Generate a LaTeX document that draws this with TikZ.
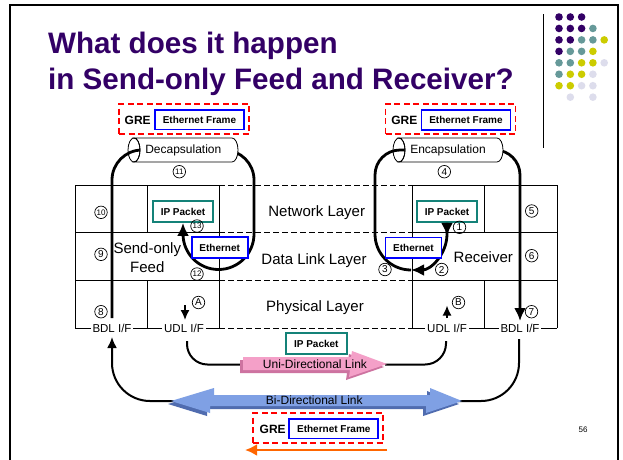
\documentclass[tikz,border=0pt]{standalone}
\usepackage{fontspec}
\setmainfont{Liberation Sans}
\usetikzlibrary{arrows.meta}
\definecolor{ttlpurple}{RGB}{51,0,102}
\definecolor{dotteal}{RGB}{102,153,153}
\definecolor{dotyellow}{RGB}{204,204,0}
\definecolor{dotlav}{RGB}{221,221,236}
\definecolor{ipteal}{RGB}{20,130,120}
\definecolor{pinkl}{RGB}{244,160,200}
\definecolor{pinkd}{RGB}{205,115,160}
\definecolor{bluel}{RGB}{127,160,228}
\definecolor{blued}{RGB}{80,108,175}
\definecolor{orng}{RGB}{255,102,0}
\begin{document}
\begin{tikzpicture}[x=1pt,y=-1pt,
  gridl/.style={line width=0.9pt},
  gridd/.style={line width=0.9pt, dash pattern=on 5.5pt off 3.5pt},
  loopl/.style={line width=2.8pt},
  linkl/.style={line width=2pt},
  bigtip/.style={-{Latex[length=13pt,width=12pt]}},
  smalltip/.style={-{Latex[length=10pt,width=9pt]}},
  circ/.style={circle, draw, line width=0.7pt, inner sep=0pt, minimum size=12.5pt, font=\fontsize{10}{10}\selectfont},
  circs/.style={circ, font=\fontsize{8}{8}\selectfont},
  layer/.style={inner sep=0pt, font=\fontsize{15}{18.4}\selectfont},
  iflabel/.style={fill=white, inner sep=1.8pt, font=\fontsize{11.5}{12}\selectfont},
  ipbox/.style={draw=ipteal, line width=1.8pt, fill=white, minimum width=60pt, minimum height=21pt, inner sep=0pt, font=\bfseries\fontsize{10}{10}\selectfont},
  ethbox/.style={draw=blue, line width=1.8pt, fill=white, minimum width=56pt, minimum height=20.5pt, inner sep=0pt, font=\bfseries\fontsize{10}{10}\selectfont},
  grebox/.style={draw=red, line width=1.9pt, dash pattern=on 6pt off 3.5pt, fill=white, minimum width=130pt, minimum height=30pt, inner sep=0pt},
  efbox/.style={draw=blue, line width=1.8pt, fill=white, minimum width=89pt, minimum height=19.5pt, inner sep=0pt, font=\bfseries\fontsize{10}{10}\selectfont},
  gretxt/.style={inner sep=0pt, font=\bfseries\fontsize{12}{12}\selectfont},
  cyltxt/.style={inner sep=0pt, font=\fontsize{12}{12}\selectfont},
  linktxt/.style={inner sep=0pt, font=\fontsize{12}{12}\selectfont}
]
\useasboundingbox (0,0) rectangle (623,459);
\fill[white] (0,0) rectangle (623,459);

% frame and decoration
\draw[line width=2.5pt] (10,470) -- (10,5) -- (618,5) -- (618,470);
\draw[line width=0.8pt] (543,14) -- (543,148);
\foreach \c/\r/\col in {0/0/ttlpurple,1/0/ttlpurple,2/0/ttlpurple,
  0/1/ttlpurple,1/1/ttlpurple,2/1/ttlpurple,3/1/dotteal,
  0/2/ttlpurple,1/2/ttlpurple,2/2/dotteal,3/2/dotteal,4/2/dotyellow,
  0/3/ttlpurple,1/3/dotteal,2/3/dotteal,3/3/dotyellow,
  0/4/dotteal,1/4/dotteal,2/4/dotyellow,3/4/dotyellow,4/4/dotlav,
  0/5/dotteal,1/5/dotyellow,2/5/dotyellow,3/5/dotlav,
  0/6/dotyellow,1/6/dotyellow,2/6/dotlav,3/6/dotlav,
  1/7/dotlav,3/7/dotlav}
  \fill[\col] (559+11.3*\c,17+11.45*\r) circle[radius=3.8];

% title
\node[anchor=base west, inner sep=0pt, text=ttlpurple, font=\bfseries\fontsize{29.6}{36}\selectfont] (t1) at (48,53) {What does it happen};
\node[anchor=base west, inner sep=0pt, text=ttlpurple, font=\bfseries\fontsize{29.6}{36}\selectfont] (t2) at (48,89) {in Send-only Feed and Receiver?};

% grid
\foreach \yy in {185,232,280,328} {
  \draw[gridl] (75,\yy) -- (219,\yy);
  \draw[gridl] (412,\yy) -- (557,\yy);
  \draw[gridd] (219,\yy) -- (412,\yy);
}
\foreach \xx in {75,219,412,557} \draw[gridl] (\xx,185) -- (\xx,328);
\draw[gridl] (147,185) -- (147,232);
\draw[gridl] (147,280) -- (147,328);
\draw[gridl] (484,185) -- (484,232);
\draw[gridl] (484,280) -- (484,328);

% boxes in the cells (named, used by the loops)
\node[ipbox] (ipL) at (183,211.5) {IP Packet};
\node[ipbox] (ipR) at (447,211.5) {IP Packet};

\coordinate (bdlLtop) at (112,318);
\coordinate (bdlRtop) at (520,321);

% loops
\draw[loopl, bigtip] (bdlLtop) -- (112,180) arc[start angle=180,end angle=270,radius=30]
  -- (224,150) arc[start angle=270,end angle=360,radius=30]
  -- (254,234) arc[start angle=0,end angle=180,radius=35.5] -- (ipL.south);
\draw[loopl, bigtip] (ipR.south) -- (447,234) arc[start angle=0,end angle=90,radius=36] coordinate (rbot);
\draw[loopl, bigtip] (ipR.south) -- ++(0,13);
\draw[loopl, bigtip] (rbot) arc[start angle=90,end angle=180,radius=36]
  -- (375,175) arc[start angle=180,end angle=270,radius=25]
  -- (495,150) arc[start angle=270,end angle=360,radius=25] -- (bdlRtop);

% cylinders
\filldraw[fill=white, line width=0.8pt] (134,138) -- (232,138) arc[start angle=-90,end angle=90,x radius=6,y radius=12]
  -- (134,162) arc[start angle=90,end angle=-90,x radius=6,y radius=12] -- cycle;
\draw[line width=0.8pt] (134,150) ellipse[x radius=6,y radius=12];
\node[cyltxt] (decap) at (183.3,150) {Decapsulation};
\filldraw[fill=white, line width=0.8pt] (399,138) -- (497,138) arc[start angle=-90,end angle=90,x radius=6,y radius=12]
  -- (399,162) arc[start angle=90,end angle=-90,x radius=6,y radius=12] -- cycle;
\draw[line width=0.8pt] (399,150) ellipse[x radius=6,y radius=12];
\node[cyltxt] (encap) at (448,150) {Encapsulation};

% Ethernet boxes
\node[ethbox] (ethL) at (219.7,247.5) {Ethernet};
\node[ethbox] (ethR) at (413.5,247.7) {Ethernet};

% layer names and side labels
\node[layer] (net) at (316.7,212.7) {Network Layer};
\node[layer] (dll) at (314,260.7) {Data Link Layer};
\node[layer] (phy) at (315,307.7) {Physical Layer};
\node[layer, align=center] (sof) at (147.3,257.5) {Send-only\\Feed};
\node[layer] (rcv) at (483.3,257.3) {Receiver};

% interface labels on the bottom line
\node[iflabel] (bdlL) at (112,328) {BDL I/F};
\node[iflabel] (udlL) at (184,328) {UDL I/F};
\node[iflabel] (udlR) at (447,328) {UDL I/F};
\node[iflabel] (bdlR) at (520,328) {BDL I/F};

% small arrows A and B
\draw[line width=1.6pt, smalltip] (185,305) -- (185,320);
\draw[line width=1.6pt, smalltip] (447,318) -- (447,305.5);

% circled numbers
\node[circs] (n10) at (101,212.3) {10};
\node[circ] (n9) at (101,254.3) {9};
\node[circ] (n8) at (101,311.7) {8};
\node[circs] (n13) at (197,226) {13};
\node[circs] (n12) at (197,274) {12};
\node[circs] (n11) at (179.3,171.7) {11};
\node[circ] (n4) at (444.3,171.7) {4};
\node[circ] (n5) at (531.7,211) {5};
\node[circ] (n6) at (531.7,255.7) {6};
\node[circ] (n7) at (531.5,311.7) {7};
\node[circ] (n1) at (459.5,227.3) {1};
\node[circ] (n2) at (441.7,269.5) {2};
\node[circ] (n3) at (385,269.5) {3};
\node[circ] (nA) at (198.5,302.5) {A};
\node[circ] (nB) at (458.5,302.5) {B};

% GRE frames at the top
\node[grebox] (greL) at (184,119) {};
\node[efbox] (efL) at (199.5,119.7) {Ethernet Frame};
\node[gretxt] (gL) at (137.7,120.5) {GRE};
\node[grebox] (greR) at (450.5,119) {};
\node[efbox] (efR) at (466,120) {Ethernet Frame};
\node[gretxt] (gR) at (404.3,120.5) {GRE};

% bottom links
\coordinate (udlLb) at (187,341);
\coordinate (udlRb) at (446,341);
\coordinate (bdlLb) at (112,337);
\coordinate (bdlRb) at (519,339);
\draw[linkl] (udlLb) -- (187,344) arc[start angle=180,end angle=90,radius=20.5] -- (245,364.5);
\draw[linkl] (385,364.5) -- (425,364.5) arc[start angle=90,end angle=0,radius=21] -- (udlRb);
\draw[linkl, -{Latex[length=11pt,width=10pt]}] (175,401) -- (150,401) arc[start angle=90,end angle=180,radius=38] -- (bdlLb);
\draw[linkl] (458,401) -- (481,401) arc[start angle=90,end angle=0,radius=38] -- (bdlRb);

% pink uni-directional arrow
\fill[pinkd] (240,360) -- (348,360) -- (349,354) -- (384,367) -- (346,380) -- (347,373) -- (240,373) -- cycle;
\fill[pinkl] (243,357) -- (351,357) -- (352,351) -- (387,364) -- (349,377) -- (350,370) -- (243,370) -- cycle;
\node[linktxt] (udlink) at (315,364.3) {Uni-Directional Link};
\node[ipbox, minimum width=60.7pt] (ipB) at (316.3,343.8) {IP Packet};

% blue bi-directional arrow
\fill[blued] (168,404) -- (211,391) -- (211,398) -- (427,398) -- (427,391) -- (459,404) -- (423,416) -- (423,409) -- (207,409) -- (207,416) -- cycle;
\fill[bluel] (171,401) -- (214,388) -- (214,395) -- (430,395) -- (430,388) -- (462,401) -- (426,413) -- (426,406) -- (210,406) -- (210,413) -- cycle;
\node[linktxt] (bdlink) at (314.3,400.5) {Bi-Directional Link};

% bottom GRE frame and orange arrow
\node[grebox] (greB) at (318,428) {};
\node[efbox] (efB) at (333.8,428.7) {Ethernet Frame};
\node[gretxt] (gB) at (272.7,429) {GRE};
\coordinate (orS) at (387,450);
\coordinate (orE) at (245,450);
\draw[line width=2.8pt, orng, -{Latex[length=12pt,width=12pt]}] (orS) -- (orE);

\node[inner sep=0pt, font=\fontsize{8}{8}\selectfont] (pg) at (583,430) {56};
\end{tikzpicture}
\end{document}
